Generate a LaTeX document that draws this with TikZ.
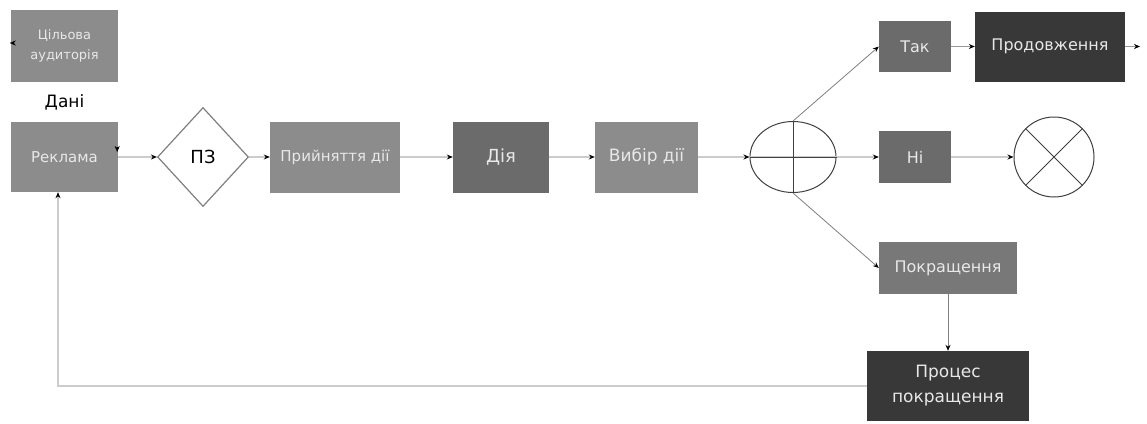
\documentclass[tikz,border=0pt]{standalone}
\usepackage{fontspec}
\setmainfont{DejaVu Sans}
\usetikzlibrary{shapes.geometric,arrows.meta}
\definecolor{boxlight}{HTML}{8C8C8C}
\definecolor{boxmid}{HTML}{6B6B6B}
\definecolor{boxmid2}{HTML}{787878}
\definecolor{boxdark}{HTML}{383838}
\definecolor{txtlight}{HTML}{E8E8E8}
\definecolor{linelight}{HTML}{CCCCCC}
\definecolor{linemid}{HTML}{808080}
\tikzset{
  blk/.style={rectangle, inner sep=0pt, text=txtlight, font=\fontsize{16}{19}\selectfont, align=center},
  lightbox/.style={blk, fill=boxlight},
  midbox/.style={blk, fill=boxmid},
  darkbox/.style={blk, fill=boxdark},
  tip/.style={-{Stealth[length=6pt,width=5pt,black]}},
  mainline/.style={draw=linelight, line width=2.2pt, tip},
  thinline/.style={draw=linemid, line width=0.8pt, tip},
  outline/.style={draw=linemid, line width=1.2pt, fill=white}
}
\begin{document}
\begin{tikzpicture}[x=1pt,y=-1pt]
\useasboundingbox[fill=white] (0,0) rectangle (1147,423);
% left stack
\node[lightbox, minimum width=107pt, minimum height=72pt, font=\fontsize{13}{20}\selectfont] (cil) at (64.5,46) {Цільова\\аудиторія};
\node[rectangle, fill=white, inner sep=0pt, minimum width=107pt, minimum height=40pt, font=\fontsize{17}{20}\selectfont] (dani) at (64.5,102) {Дані};
\node[lightbox, minimum width=107pt, minimum height=70pt, font=\fontsize{15}{18}\selectfont] (rek) at (64.5,157) {Реклама};
% main row
\node[diamond, outline, inner sep=0pt, minimum width=91pt, minimum height=99pt, font=\fontsize{18}{20}\selectfont] (pz) at (203,157) {ПЗ};
\node[lightbox, minimum width=130pt, minimum height=71pt, font=\fontsize{15}{18}\selectfont] (pri) at (335,157) {Прийняття дії};
\node[midbox, minimum width=96pt, minimum height=71pt, font=\fontsize{18}{20}\selectfont] (dia) at (501,157) {Дія};
\node[lightbox, minimum width=103pt, minimum height=71pt, font=\fontsize{17}{20}\selectfont] (vyb) at (646.5,157) {Вибір дії};
\node[ellipse, draw=black!75, line width=1pt, inner sep=0pt, minimum width=86pt, minimum height=71pt] (ell) at (793,157) {};
\node[midbox, minimum width=72pt, minimum height=51pt] (tak) at (915,46.5) {Так};
\node[darkbox, minimum width=150pt, minimum height=70pt] (prod) at (1050,46.5) {Продовження};
\node[midbox, minimum width=72pt, minimum height=52pt] (ni) at (915,157) {Ні};
\node[circle, draw=black!75, line width=1pt, inner sep=0pt, minimum size=80pt] (xc) at (1054,157) {};
\node[blk, fill=boxmid2, minimum width=138pt, minimum height=52pt] (pokr) at (948,268) {Покращення};
\node[darkbox, minimum width=162pt, minimum height=70pt, font=\fontsize{17}{25}\selectfont] (proc) at (948,386) {Процес\\покращення};
\coordinate (pout) at (1140,46.5);
\coordinate (fb) at (58,0);
% connectors
\draw[mainline] (rek.east) -- (pz.west);
\draw[mainline] (pz.east) -- (pri.west);
\draw[mainline] (pri.east) -- (dia.west);
\draw[mainline] (dia.east) -- (vyb.west);
\draw[mainline] (vyb.east) -- (ell.west);
\draw[draw=linelight, line width=2.2pt] (ell.west) -- (ell.east);
\draw[mainline] (ell.east) -- (ni.west);
\draw[mainline] (ni.east) -- (xc.west);
\draw[thinline] (ell.north) -- (tak.west);
\draw[thinline] (ell.south) -- (pokr.west);
\draw[thinline, draw=linemid!80] (tak.east) -- (prod.west);
\draw[thinline, draw=linemid!80] (prod.east) -- (pout);
\draw[thinline] (pokr.south) -- (proc.north);
\draw[draw=linelight, line width=1.6pt, tip] (proc.west) -| (fb |- rek.south);
% symbol strokes
\draw[black!75, line width=1pt] (ell.north) -- (ell.south);
\draw[black!75, line width=1pt] (ell.west) -- (ell.east);
\draw[black!75, line width=1pt] (xc.north west) -- (xc.south east);
\draw[black!75, line width=1pt] (xc.north east) -- (xc.south west);
% small marks
\draw[tip] ([xshift=2pt,yshift=3pt]cil.west) -- ([xshift=-1pt,yshift=3pt]cil.west);
\draw[tip] ([xshift=-1pt,yshift=10pt]rek.east) -- ([xshift=-1pt,yshift=5pt]rek.east);
\end{tikzpicture}
\end{document}
